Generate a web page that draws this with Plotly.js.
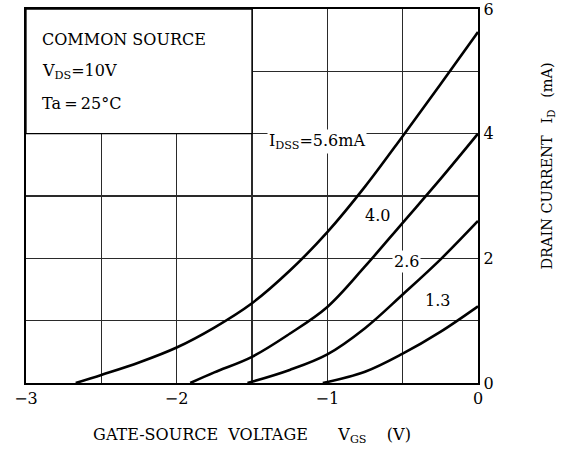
<!DOCTYPE html>
<html>
<head>
<meta charset="utf-8">
<script src="https://cdn.plot.ly/plotly-3.0.1.min.js"></script>
<style>html,body{margin:0;padding:0;background:#fff;}#chart{width:568px;height:450px;}</style>
</head>
<body>
<div id="chart"></div>
<script>
// Data (VGS in V, ID in mA)
var vgs_56 = [-2.67, -2.5, -2.25, -2.0, -1.75, -1.5, -1.25, -1.0, -0.75, -0.5, -0.25, 0];
var id_56  = [0, 0.13, 0.33, 0.57, 0.89, 1.28, 1.80, 2.42, 3.15, 3.96, 4.79, 5.63];
var vgs_40 = [-1.91, -1.75, -1.5, -1.25, -1.0, -0.75, -0.5, -0.25, 0];
var id_40  = [0, 0.17, 0.42, 0.79, 1.22, 1.87, 2.57, 3.27, 4.00];
var vgs_26 = [-1.53, -1.25, -1.0, -0.75, -0.5, -0.25, 0];
var id_26  = [0, 0.21, 0.46, 0.88, 1.42, 1.98, 2.60];
var vgs_13 = [-1.03, -0.75, -0.5, -0.25, 0];
var id_13  = [0, 0.18, 0.47, 0.82, 1.23];

var curveLabels = ["I<sub>DSS</sub>=5.6mA", "4.0", "2.6", "1.3"];
var xTickVals = [-3, -2, -1, 0];
var yTickVals = [0, 2, 4, 6];
var conditionLines = ["COMMON SOURCE", "V<sub>DS</sub>=10V", "Ta\u2009=\u200925\u00b0C"];

var FONT = "DejaVu Serif, Liberation Serif, serif";
var lineStyle = {color: "#000", width: 2.6, shape: "spline", smoothing: 1};

function curve(x, y, name) {
  return {x: x, y: y, type: "scatter", mode: "lines", line: lineStyle,
          name: name, showlegend: false, hoverinfo: "skip", cliponaxis: true};
}

var data = [
  curve(vgs_56, id_56, "5.6"),
  curve(vgs_40, id_40, "4.0"),
  curve(vgs_26, id_26, "2.6"),
  curve(vgs_13, id_13, "1.3")
];

var labelPos = [[-1.07, 3.87], [-0.668, 2.68], [-0.473, 1.95], [-0.27, 1.32]];
var annotations = curveLabels.map(function (t, i) {
  return {text: t, x: labelPos[i][0], y: labelPos[i][1], xref: "x", yref: "y",
          showarrow: false, bgcolor: "#fff", borderpad: 1,
          font: {family: FONT, size: 16, color: "#000"}};
});
var condY = [5.51, 5.0, 4.48];
conditionLines.forEach(function (t, i) {
  annotations.push({text: t, x: -2.905, y: condY[i], xref: "x", yref: "y",
    xanchor: "left", yanchor: "middle", showarrow: false,
    font: {family: FONT, size: 16, color: "#000"}});
});
annotations.push({
  text: "DRAIN CURRENT\u2002\u00a0I<sub>D</sub>\u2002\u00a0(mA)",
  xref: "paper", yref: "paper", x: 1.155, y: 0.579, textangle: -90,
  xanchor: "center", yanchor: "middle", showarrow: false,
  font: {family: FONT, size: 14.5, color: "#000"}
});

var gridCol = "#2a2a2a";
var layout = {
  width: 568, height: 450,
  margin: {l: 26, r: 90, t: 9, b: 67},
  paper_bgcolor: "#fff", plot_bgcolor: "#fff",
  font: {family: FONT, size: 16, color: "#000"},
  showlegend: false,
  xaxis: {
    range: [-3, 0], tickmode: "array", tickvals: xTickVals,
    showgrid: true, gridcolor: gridCol, gridwidth: 1.3,
    minor: {tickmode: "linear", tick0: 0, dtick: 0.5, showgrid: true, gridcolor: gridCol, gridwidth: 1.3, ticks: ""},
    showline: true, mirror: true, linecolor: "#000", linewidth: 2.2,
    zeroline: false, ticks: "", fixedrange: true, ticklabeloverflow: "allow",
    tickfont: {family: FONT, size: 16, color: "#000"},
    title: {text: "GATE-SOURCE\u00a0\u00a0VOLTAGE\u00a0\u00a0\u00a0\u00a0\u00a0\u00a0V<sub>GS</sub>\u00a0\u00a0\u00a0\u00a0(V)", standoff: 21,
            font: {family: FONT, size: 16, color: "#000"}}
  },
  yaxis: {
    range: [0, 6], side: "right", tickmode: "array", tickvals: yTickVals,
    showgrid: true, gridcolor: gridCol, gridwidth: 1.3,
    minor: {tickmode: "linear", tick0: 0, dtick: 1, showgrid: true, gridcolor: gridCol, gridwidth: 1.3, ticks: ""},
    showline: true, mirror: true, linecolor: "#000", linewidth: 2.2,
    zeroline: false, ticks: "", fixedrange: true, ticklabeloverflow: "allow",
    tickfont: {family: FONT, size: 16, color: "#000"}
  },
  shapes: [{
    type: "rect", xref: "x", yref: "y", x0: -3, x1: -1.5, y0: 4, y1: 6,
    fillcolor: "#fff", line: {color: "#000", width: 1.3}, layer: "between"
  }],
  annotations: annotations
};

Plotly.newPlot("chart", data, layout, {displayModeBar: false, staticPlot: true});
</script>
</body>
</html>
